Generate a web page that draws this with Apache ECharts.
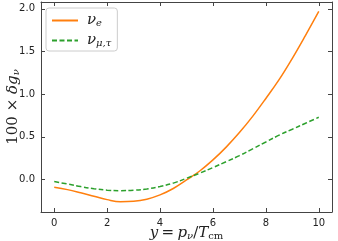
<!DOCTYPE html>
<html><head><meta charset="utf-8">
<script src="https://cdn.jsdelivr.net/npm/echarts@6/dist/echarts.min.js"></script>
<style>html,body{margin:0;padding:0;background:#fff}#c{width:338px;height:241px}</style>
</head><body><div id="c"></div>
<script>
const xs = [0,0.5,1,1.5,2,2.5,3,3.5,4,4.5,5,5.5,6,6.5,7,7.5,8,8.5,9,9.5,10];
const nuE = [-0.09,-0.118,-0.155,-0.195,-0.235,-0.26,-0.255,-0.23,-0.18,-0.105,-0.005,0.1,0.23,0.38,0.55,0.74,0.95,1.17,1.42,1.69,1.97];
const nuMuTau = [-0.024,-0.052,-0.082,-0.107,-0.124,-0.13,-0.125,-0.11,-0.082,-0.042,0.015,0.075,0.14,0.21,0.28,0.36,0.44,0.52,0.59,0.66,0.73];
const xTicks = [0,2,4,6,8,10];
const yTicks = [0,0.5,1,1.5,2];
const seriesNames = ['nue','numutau'];

const chart = echarts.init(document.getElementById('c'));
const axisCol = '#444';
const lab = {fontFamily:'DejaVu Sans', fontSize:10, color:'#222'};
const serif = 'DejaVu Serif';
const rich = {
  i:{fontFamily:serif, fontStyle:'italic', fontSize:15, color:'#222'},
  r:{fontFamily:serif, fontSize:15, color:'#222'},
  si:{fontFamily:serif, fontStyle:'italic', fontSize:10, color:'#222', padding:[5,0,0,0]},
  sr:{fontFamily:serif, fontSize:10, color:'#222', padding:[5,0,0,0]}
};
function mkX(pos, show){
  return {type:'value', position:pos, min:-0.5, max:10.5,
    axisLine:{show:true, onZero:false, lineStyle:{color:axisCol, width:1}},
    axisTick:{show:true, inside:true, length:4, customValues:xTicks, lineStyle:{color:axisCol}},
    axisLabel:{show:show, customValues:xTicks, margin:6, ...lab},
    splitLine:{show:false}};
}
function mkY(pos, show){
  return {type:'value', position:pos, min:-0.38, max:2.08,
    axisLine:{show:true, onZero:false, lineStyle:{color:axisCol, width:1}},
    axisTick:{show:true, inside:true, length:4, customValues:yTicks, lineStyle:{color:axisCol}},
    axisLabel:{show:show, customValues:yTicks, margin:6, formatter:v=>v.toFixed(1), ...lab},
    splitLine:{show:false}};
}
const xa = mkX('bottom', true);
xa.name = '{i|y} {r|=} {i|p}{si|ν}{r|/}{i|T}{sr|cm}';
xa.nameLocation = 'middle'; xa.nameGap = 14; xa.nameMoveOverlap = false;
xa.nameTextStyle = {rich, verticalAlign:'top'};
const ya = mkY('left', true);
ya.name = '{r|100 × }{i|δg}{si|ν}';
ya.nameLocation = 'middle'; ya.nameGap = 20; ya.nameRotate = 90; ya.nameMoveOverlap = false;
ya.nameTextStyle = {rich};

chart.setOption({
  animation:false,
  grid:{left:41, right:6, top:2, bottom:29, outerBoundsMode:'none', containLabel:false},
  xAxis:[xa, mkX('top', false)],
  yAxis:[ya, mkY('right', false)],
  legend:{
    orient:'vertical', left:46, top:8, itemWidth:26, itemHeight:12, itemGap:5,
    padding:[5,6,3,5], borderColor:'#ccc', borderWidth:1, borderRadius:3, backgroundColor:'#fff',
    itemStyle:{opacity:0},
    formatter: n => n==='nue' ? '{i|ν}{si|e}' : '{i|ν}{si|μ,τ}',
    textStyle:{rich, padding:[0,0,0,4]},
    data:seriesNames
  },
  series:[
    {name:seriesNames[0], type:'line', symbol:'none', smooth:0.4, xAxisIndex:0, yAxisIndex:0,
     data:xs.map((x,i)=>[x,nuE[i]]), lineStyle:{color:'#ff7f0e', width:1.5}, itemStyle:{color:'#ff7f0e'}},
    {name:seriesNames[1], type:'line', symbol:'none', smooth:0.4, xAxisIndex:0, yAxisIndex:0,
     data:xs.map((x,i)=>[x,nuMuTau[i]]), lineStyle:{color:'#2ca02c', width:1.5, type:[5,2.5]}, itemStyle:{color:'#2ca02c'}}
  ]
});
</script></body></html>
